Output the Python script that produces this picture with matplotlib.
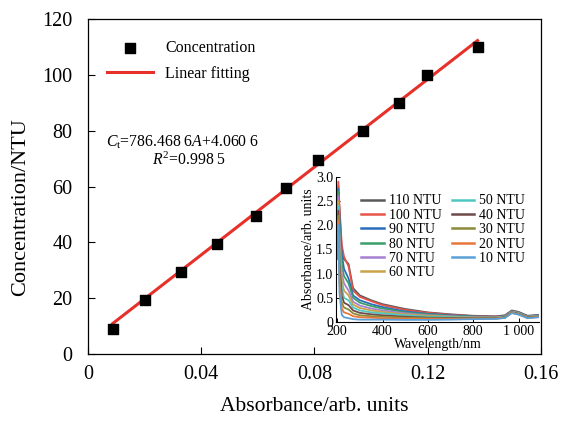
import matplotlib
matplotlib.use("Agg")
import matplotlib.pyplot as plt
import numpy as np

plt.rcParams['font.family'] = ['Liberation Serif', 'DejaVu Serif']
plt.rcParams['mathtext.fontset'] = 'custom'
plt.rcParams['mathtext.rm'] = 'Liberation Serif'
plt.rcParams['mathtext.it'] = 'Liberation Serif:italic'

# ---- main calibration data ----
absorbance = [0.0087, 0.0200, 0.0327, 0.0454, 0.0595, 0.0698, 0.0811, 0.0973, 0.1097, 0.1196, 0.1376]
concentration = [9, 19.5, 29.5, 39.5, 49.5, 59.5, 69.5, 80, 90, 100, 110]
slope = 786.4686
intercept = 4.0606

x_ticks = [0, 0.04, 0.08, 0.12, 0.16]
x_tick_labels = ['0', '0.04', '0.08', '0.12', '0.16']
y_ticks = [0, 20, 40, 60, 80, 100, 120]

# ---- inset spectra ----
wavelength = [200, 205, 210, 220, 230, 250, 270, 300, 350, 400, 500, 600, 700, 800, 900, 940, 970, 1000, 1040, 1090]
spec_labels = ['110 NTU', '100 NTU', '90 NTU', '80 NTU', '70 NTU', '60 NTU',
               '50 NTU', '40 NTU', '30 NTU', '20 NTU', '10 NTU']
spec_colors = ['#5a5a5a', '#e8534a', '#2a6ebb', '#3a9e6a', '#a57fd0', '#c9a24a',
               '#4fc6c0', '#6e4a4a', '#8a8a3a', '#e8763a', '#5a9fd6']
s110 = [2.2, 2.8, 2.3, 1.5, 1.3, 1.2, 0.7, 0.55, 0.45, 0.37, 0.27, 0.20, 0.16, 0.13, 0.12, 0.14, 0.24, 0.21, 0.13, 0.15]
s100 = [2.3, 2.9, 2.4, 1.6, 1.35, 1.15, 0.65, 0.52, 0.43, 0.35, 0.25, 0.19, 0.15, 0.12, 0.11, 0.13, 0.23, 0.20, 0.12, 0.14]
s90 = [2.1, 2.75, 2.2, 1.4, 1.1, 0.9, 0.55, 0.45, 0.37, 0.31, 0.22, 0.17, 0.14, 0.115, 0.105, 0.125, 0.225, 0.195, 0.12, 0.14]
s80 = [2.0, 2.7, 2.0, 1.2, 0.95, 0.8, 0.50, 0.40, 0.33, 0.28, 0.20, 0.16, 0.13, 0.11, 0.10, 0.12, 0.22, 0.19, 0.115, 0.135]
s70 = [1.9, 2.6, 1.8, 1.0, 0.8, 0.65, 0.42, 0.34, 0.28, 0.24, 0.18, 0.14, 0.12, 0.10, 0.095, 0.115, 0.215, 0.185, 0.11, 0.13]
s60 = [1.8, 2.5, 1.6, 0.85, 0.65, 0.55, 0.36, 0.29, 0.24, 0.21, 0.16, 0.13, 0.11, 0.095, 0.09, 0.11, 0.21, 0.18, 0.105, 0.125]
s50 = [1.7, 2.4, 1.4, 0.7, 0.5, 0.45, 0.30, 0.24, 0.20, 0.18, 0.14, 0.11, 0.10, 0.09, 0.085, 0.105, 0.205, 0.175, 0.10, 0.12]
s40 = [1.6, 2.3, 1.2, 0.55, 0.4, 0.35, 0.24, 0.19, 0.16, 0.14, 0.11, 0.09, 0.085, 0.08, 0.08, 0.10, 0.20, 0.17, 0.095, 0.115]
s30 = [1.5, 2.2, 1.0, 0.4, 0.3, 0.26, 0.18, 0.14, 0.12, 0.11, 0.09, 0.08, 0.075, 0.075, 0.075, 0.095, 0.195, 0.165, 0.09, 0.11]
s20 = [1.4, 2.1, 0.8, 0.28, 0.2, 0.17, 0.12, 0.10, 0.09, 0.08, 0.07, 0.065, 0.065, 0.07, 0.07, 0.09, 0.19, 0.16, 0.085, 0.105]
s10 = [1.3, 2.0, 0.6, 0.15, 0.1, 0.08, 0.06, 0.05, 0.05, 0.05, 0.045, 0.045, 0.05, 0.06, 0.065, 0.085, 0.185, 0.155, 0.08, 0.10]
spectra = [s110, s100, s90, s80, s70, s60, s50, s40, s30, s20, s10]

inset_x_ticks = [200, 400, 600, 800, 1000]
inset_x_labels = ['200', '400', '600', '800', '1 000']
inset_y_ticks = [0, 0.5, 1.0, 1.5, 2.0, 2.5, 3.0]
inset_y_labels = ['0', '0.5', '1.0', '1.5', '2.0', '2.5', '3.0']

fig = plt.figure(figsize=(5.62, 4.21), dpi=100)
ax = fig.add_axes([0.1566, 0.1591, 0.806, 0.7958])

ax.scatter(absorbance, concentration, marker='s', s=50, color='black', zorder=3, label='Concentration')
xf = np.array([absorbance[0], absorbance[-1]])
ax.plot(xf, slope * xf + intercept, color='#e8302a', lw=2.2, zorder=2, label='Linear fitting')

ax.set_xlim(0, 0.16)
ax.set_ylim(0, 120)
ax.set_xticks(x_ticks)
ax.set_xticklabels(x_tick_labels)
ax.set_yticks(y_ticks)
ax.tick_params(direction='in', length=5, width=0.8, labelsize=14.5, top=False, right=False)
ax.tick_params(axis='y', pad=11)
ax.tick_params(axis='x', pad=8)
ax.set_xlabel('Absorbance/arb. units', fontsize=15.5, labelpad=9)
ax.set_ylabel('Concentration/NTU', fontsize=16)
ax.yaxis.set_label_coords(-0.128, 0.44)
for sp in ax.spines.values():
    sp.set_linewidth(0.9)

leg = ax.legend(loc='upper left', bbox_to_anchor=(0.01, 0.98), frameon=False, fontsize=11.5,
                handlelength=2.9, handletextpad=0.75, labelspacing=0.6)

ax.text(0.209, 0.633, r'$C_{\rm t}$=786.468 6$A$+4.060 6', transform=ax.transAxes,
        ha='center', va='center', fontsize=11.3)
ax.text(0.224, 0.579, r'$R^{2}$=0.998 5', transform=ax.transAxes,
        ha='center', va='center', fontsize=11.3)

# inset
ins = fig.add_axes([0.598, 0.235, 0.361, 0.345])
for vals, lab, c in zip(spectra, spec_labels, spec_colors):
    ins.plot(wavelength, vals, color=c, lw=1.3, label=lab)
ins.set_xlim(195, 1090)
ins.set_ylim(0, 3.0)
ins.set_xticks(inset_x_ticks)
ins.set_xticklabels(inset_x_labels)
ins.set_yticks(inset_y_ticks)
ins.set_yticklabels(inset_y_labels)
ins.tick_params(direction='in', length=3, width=0.7, labelsize=10, pad=2)
ins.set_xlabel('Wavelength/nm', fontsize=10, labelpad=0)
ins.set_ylabel('Absorbance/arb. units', fontsize=10, labelpad=1)
ins.spines['top'].set_visible(False)
ins.spines['right'].set_visible(False)
ileg = ins.legend(ncol=2, frameon=False, fontsize=10, loc='upper right', bbox_to_anchor=(0.995, 0.965),
                  handlelength=1.6, labelspacing=0.1, columnspacing=0.7, handletextpad=0.4)
for h in ileg.get_lines():
    h.set_linewidth(1.8)

fig.savefig('out.png', dpi=100)
